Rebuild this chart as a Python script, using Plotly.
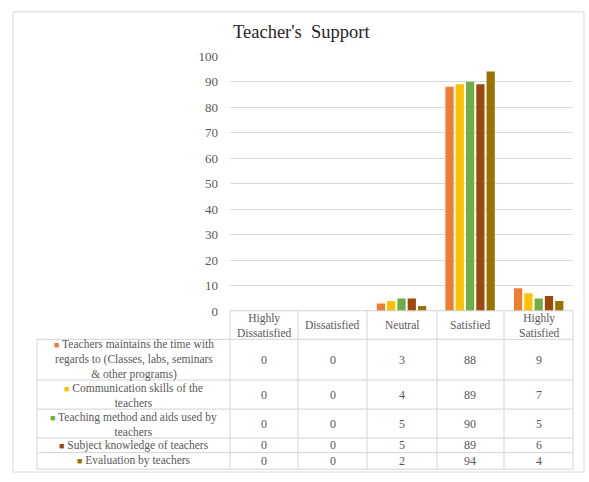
import plotly.graph_objects as go

W, H = 589, 482

categories = ["Highly Dissatisfied", "Dissatisfied", "Neutral", "Satisfied", "Highly Satisfied"]
header_labels = ["Highly<br>Dissatisfied", "Dissatisfied", "Neutral", "Satisfied", "Highly<br>Satisfied"]

series_names = [
    "Teachers maintains the time with regards to (Classes, labs, seminars & other programs)",
    "Communication skills of the teachers",
    "Teaching method and aids used by teachers",
    "Subject knowledge of teachers",
    "Evaluation by teachers",
]
series_labels = [
    "Teachers maintains the time with<br>regards to (Classes, labs, seminars<br>& other programs)",
    "Communication skills of the<br>teachers",
    "Teaching method and aids used by<br>teachers",
    "Subject knowledge of teachers",
    "Evaluation by teachers",
]
s1 = [0, 0, 3, 88, 9]
s2 = [0, 0, 4, 89, 7]
s3 = [0, 0, 5, 90, 5]
s4 = [0, 0, 5, 89, 6]
s5 = [0, 0, 2, 94, 4]
series_values = [s1, s2, s3, s4, s5]
colors = ["#ED7D31", "#FFC000", "#70AD47", "#9E480E", "#997300"]

y_ticks = list(range(0, 101, 10))

FONT = "Liberation Serif, Times New Roman, serif"
TXT = "#595959"


def px(x):
    return x / W


def py(y):
    return 1 - y / H


fig = go.Figure()
for name, vals, col in zip(series_names, series_values, colors):
    fig.add_trace(go.Bar(x=categories, y=vals, name=name, marker=dict(color=col, line=dict(width=0))))

# plot area pixels
PL, PR, PT, PB = 230, 573, 50.7, 314

fig.update_layout(
    width=W, height=H,
    margin=dict(l=0, r=0, t=0, b=0),
    paper_bgcolor="white", plot_bgcolor="white",
    showlegend=False,
    barmode="group", bargap=0.25, bargroupgap=0.2,
    font=dict(family=FONT, color=TXT),
    xaxis=dict(domain=[px(PL), px(PR)], showticklabels=False, showgrid=False,
               showline=False, zeroline=False, ticks=""),
    yaxis=dict(domain=[py(PB), py(PT)], range=[0, 100], tickvals=y_ticks,
               showgrid=True, gridcolor="#D9D9D9", gridwidth=1, zeroline=False,
               showline=False, ticks="", ticklabelstandoff=11,
               tickfont=dict(family=FONT, size=13, color=TXT)),
)

shapes = []
LC = "#D3D3D3"
# outer chart border
shapes.append(dict(type="rect", xref="paper", yref="paper", x0=px(13), x1=px(584), y0=py(480), y1=py(5),
                   line=dict(color="#D9D9D9", width=1)))

col_x = [230, 298, 367, 437, 504, 573]
row_y = [343, 385, 415, 445, 460, 477]
row_text_center = [363.5, 400.5, 430.5, 452.5, 468.5]
TL = 37
shapes.append(dict(type="line", xref="paper", yref="paper", x0=px(230), x1=px(573), y0=py(313.5), y1=py(313.5),
                   line=dict(color=LC, width=1)))
for y in row_y:
    shapes.append(dict(type="line", xref="paper", yref="paper", x0=px(TL), x1=px(573), y0=py(y), y1=py(y),
                       line=dict(color=LC, width=1)))
shapes.append(dict(type="line", xref="paper", yref="paper", x0=px(TL), x1=px(TL), y0=py(343), y1=py(477),
                   line=dict(color=LC, width=1)))
for x in col_x:
    shapes.append(dict(type="line", xref="paper", yref="paper", x0=px(x), x1=px(x), y0=py(313.5), y1=py(477),
                       line=dict(color=LC, width=1)))
fig.update_layout(shapes=shapes)

ann = []
ann.append(dict(text="Teacher's  Support", xref="paper", yref="paper", x=px(301), y=py(26),
                showarrow=False, font=dict(family=FONT, size=18.5, color="#262626"),
                xanchor="center", yanchor="middle"))
# header
for cat, lab in zip(categories, header_labels):
    ann.append(dict(text=lab, xref="x", yref="paper", x=cat, y=py(328.5), showarrow=False,
                    font=dict(family=FONT, size=11.5, color=TXT), borderpad=0,
                    xanchor="center", yanchor="middle", align="center"))
# rows
for i, (lab, vals, col) in enumerate(zip(series_labels, series_values, colors)):
    yc = row_text_center[i]
    txt = f"<span style='color:{col};font-size:9px'>■</span> " + lab
    ann.append(dict(text=txt, xref="paper", yref="paper", x=px((TL + 230) / 2), y=py(yc), showarrow=False,
                    font=dict(family=FONT, size=11.5, color=TXT), borderpad=0,
                    xanchor="center", yanchor="middle", align="center"))
    for cat, v in zip(categories, vals):
        ann.append(dict(text=str(v), xref="x", yref="paper", x=cat, y=py((row_y[i] + row_y[i + 1]) / 2),
                        showarrow=False, font=dict(family=FONT, size=12, color=TXT),
                        xanchor="center", yanchor="middle"))
fig.update_layout(annotations=ann)

fig.write_html("out.html")
